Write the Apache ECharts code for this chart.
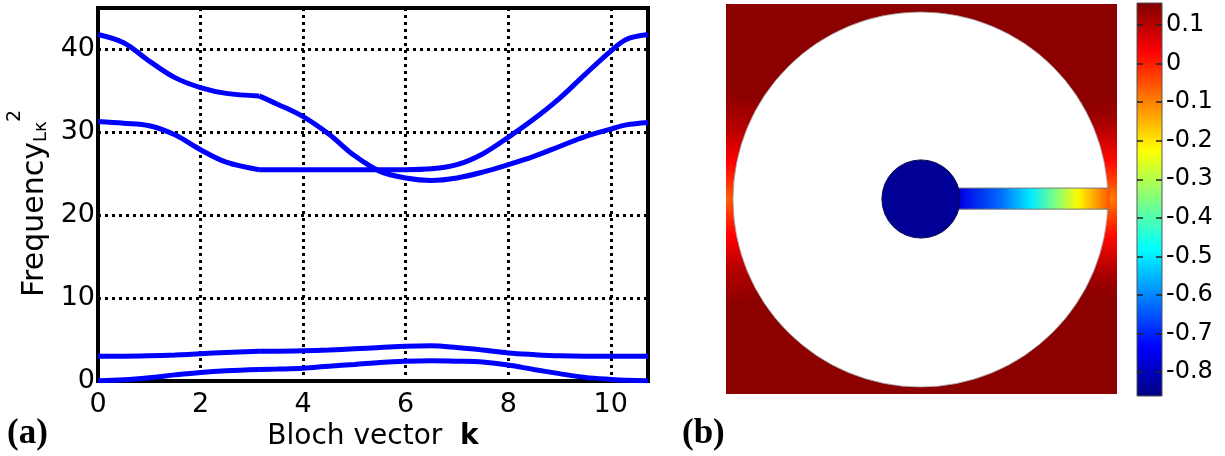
<!DOCTYPE html>
<html lang="en">
<head>
<meta charset="UTF-8">
<title>Bands and field</title>
<style>
    body { margin: 0; background: #fff; }
    #chart { width: 1225px; height: 456px; }
</style>
<script src="https://cdn.jsdelivr.net/npm/echarts@6/dist/echarts.min.js"></script>
</head>
<body>
<div id="chart"></div>
<script>
    // (a) Bloch vector samples: Gamma -> X, then X -> M -> Gamma
    var kGX = [0, 0.5, 1, 1.5, 2, 2.5, 3.1416];
    var kXMG = [3.1416, 3.5, 4, 4.5, 5, 5.5, 6, 6.5, 7, 7.5, 8, 8.5, 9, 9.5, 10, 10.3, 10.726];

    var band1GX = [0.05, 0.15, 0.4, 0.75, 1.05, 1.25, 1.4];
    var band1XMG = [1.4, 1.45, 1.55, 1.8, 2.0, 2.25, 2.4, 2.45, 2.4, 2.3, 1.95, 1.4, 0.9, 0.45, 0.2, 0.1, 0.05];
    var band2GX = [3.0, 3.0, 3.05, 3.15, 3.3, 3.45, 3.6];
    var band2XMG = [3.6, 3.6, 3.65, 3.75, 3.9, 4.05, 4.2, 4.25, 4.05, 3.75, 3.4, 3.2, 3.05, 3.0, 3.0, 3.0, 3.0];
    var band3GX = [31.3, 31.1, 30.8, 29.7, 27.9, 26.4, 25.5];
    var band3XMG = [25.5, 25.5, 25.5, 25.5, 25.5, 25.5, 25.5, 25.6, 26.1, 27.4, 29.4, 31.6, 34.1, 37.0, 39.8, 41.2, 41.8];
    var band4GX = [41.8, 40.8, 38.6, 36.6, 35.4, 34.7, 34.4];
    var band4XMG = [34.4, 33.4, 31.9, 29.8, 27.2, 25.3, 24.5, 24.2, 24.5, 25.2, 26.1, 27.1, 28.3, 29.5, 30.4, 30.9, 31.2];

    // (b) field values, read against the colour bar
    var fieldMin = -0.862;
    var fieldMax = 0.157;
    var colorbarTicks = [-0.8, -0.7, -0.6, -0.5, -0.4, -0.3, -0.2, -0.1, 0, 0.1];
    var fieldFar = 0.145;
    var fieldDisk = -0.84;
    var glowOffsets = [0, 0.15, 0.35, 0.65, 1];
    var leftGlowValues = [-0.07, -0.02, 0.03, 0.1, 0.145];
    var rightGlowValues = [-0.1, -0.04, 0.02, 0.1, 0.145];
    var slotPos = [0.6, 0.7, 0.78, 0.84, 0.9, 0.95, 0.98];
    var slotValues = [-0.76, -0.63, -0.5, -0.36, -0.22, -0.12, -0.06];

    // unit cell geometry, cell units (0..1)
    var cellCircle = [0.4974, 0.4987, 0.4795];   // cx, cy, r
    var cellDisk = [0.4987, 0.5, 0.1];
    var cellSlot = [0.4987, 0.982, 0.501, 0.027]; // x0, x1, y, half height

    function pairs(xs, ys) {
        return xs.map(function (x, i) { return [x, ys[i]]; });
    }

    function jetRGB(v) {
        var t = (v - fieldMin) / (fieldMax - fieldMin);
        function c(x) { return Math.round(255 * Math.max(0, Math.min(1, x))); }
        return [c(Math.min(4 * t - 1.5, -4 * t + 4.5)),
                c(Math.min(4 * t - 0.5, -4 * t + 3.5)),
                c(Math.min(4 * t + 0.5, -4 * t + 2.5))];
    }
    function jet(v, a) {
        var c = jetRGB(v);
        return 'rgba(' + c[0] + ',' + c[1] + ',' + c[2] + ',' + (a === undefined ? 1 : a) + ')';
    }

    var chart = echarts.init(document.getElementById('chart'));

    var bandLine = { color: '#0000ff', width: 5 };
    var bandSets = [band1GX, band1XMG, band2GX, band2XMG, band3GX, band3XMG, band4GX, band4XMG];
    var bandSeries = bandSets.map(function (ys, i) {
        return {
            type: 'line',
            xAxisIndex: 0,
            yAxisIndex: 0,
            data: pairs(i % 2 === 0 ? kGX : kXMG, ys),
            showSymbol: false,
            smooth: 0.35,
            lineStyle: bandLine,
            z: 3
        };
    });

    var dotted = { color: '#000', width: 3, type: [3, 4] };
    var tickFont = { fontFamily: 'DejaVu Sans', fontSize: 27, color: '#000' };

    var cellSeries = {
        type: 'custom',
        xAxisIndex: 1,
        yAxisIndex: 1,
        data: [[0, 0]],
        silent: true,
        renderItem: function (params, api) {
            var bl = api.coord([0, 0]);
            var tr = api.coord([1, 1]);
            var w = tr[0] - bl[0];
            var h = bl[1] - tr[1];
            var box = { x: bl[0], y: tr[1], width: w, height: h };

            var lc = api.coord([0, 0.5]);
            var rc = api.coord([cellSlot[1], cellSlot[2]]);
            var leftStops = glowOffsets.map(function (o, i) {
                return { offset: o, color: jet(leftGlowValues[i]) };
            });
            var rightStops = glowOffsets.map(function (o, i) {
                return { offset: o, color: jet(rightGlowValues[i], i === glowOffsets.length - 1 ? 0 : 1) };
            });

            var cc = api.coord([cellCircle[0], cellCircle[1]]);
            var dc = api.coord([cellDisk[0], cellDisk[1]]);
            var s0 = api.coord([cellSlot[0], cellSlot[2] + cellSlot[3]]);
            var s1 = api.coord([cellSlot[1], cellSlot[2] - cellSlot[3]]);
            var slotStops = slotPos.map(function (p, i) {
                return { offset: (p - cellSlot[0]) / (cellSlot[1] - cellSlot[0]), color: jet(slotValues[i]) };
            });

            return {
                type: 'group',
                children: [
                    { type: 'rect', shape: box, style: { fill: jet(fieldFar) } },
                    { type: 'rect', shape: box, style: {
                        fill: new echarts.graphic.RadialGradient(lc[0], lc[1], 0.27 * w, leftStops, true) } },
                    { type: 'rect', shape: box, style: {
                        fill: new echarts.graphic.RadialGradient(rc[0], rc[1], 0.27 * w, rightStops, true) } },
                    { type: 'circle', shape: { cx: cc[0], cy: cc[1], r: cellCircle[2] * w },
                      style: { fill: '#fff', stroke: '#999', lineWidth: 0.8 } },
                    { type: 'rect', shape: { x: s0[0], y: s0[1], width: s1[0] - s0[0], height: s1[1] - s0[1] },
                      style: { fill: new echarts.graphic.LinearGradient(s0[0], 0, s1[0], 0, slotStops, true) } },
                    { type: 'line', shape: { x1: s0[0], y1: s0[1], x2: s1[0], y2: s0[1] },
                      style: { stroke: '#777', lineWidth: 1 } },
                    { type: 'line', shape: { x1: s0[0], y1: s1[1], x2: s1[0], y2: s1[1] },
                      style: { stroke: '#777', lineWidth: 1 } },
                    { type: 'circle', shape: { cx: dc[0], cy: dc[1], r: cellDisk[2] * w },
                      style: { fill: jet(fieldDisk), stroke: '#0a0a50', lineWidth: 1 } }
                ]
            };
        }
    };

    var colorbarSeries = {
        type: 'custom',
        xAxisIndex: 2,
        yAxisIndex: 2,
        data: [[0, 0]],
        silent: true,
        z: 1,
        renderItem: function (params, api) {
            var top = api.coord([0, fieldMax]);
            var bot = api.coord([1, fieldMin]);
            var stops = [];
            for (var i = 0; i <= 40; i++) {
                stops.push({ offset: i / 40, color: jet(fieldMax - i / 40 * (fieldMax - fieldMin)) });
            }
            return {
                type: 'rect',
                shape: { x: top[0], y: top[1], width: bot[0] - top[0], height: bot[1] - top[1] },
                style: {
                    fill: new echarts.graphic.LinearGradient(0, top[1], 0, bot[1], stops, true),
                    stroke: '#555',
                    lineWidth: 1
                }
            };
        }
    };

    var cbTick = { show: true, inside: true, length: 6, customValues: colorbarTicks,
                   lineStyle: { color: '#222', width: 1.5 } };

    var option = {
        animation: false,
        backgroundColor: '#fff',
        grid: [
            { left: 98, top: 8, width: 550, height: 382, show: true, borderColor: '#000', borderWidth: 4 },
            { left: 726, top: 4, width: 391, height: 390 },
            { left: 1137, top: 3, width: 25, height: 393 }
        ],
        xAxis: [
            {
                gridIndex: 0, type: 'value', min: 0, max: 10.726, interval: 2,
                name: '{a|Bloch vector  }{b|k}',
                nameLocation: 'middle', nameGap: 36,
                nameTextStyle: { rich: {
                    a: { fontFamily: 'DejaVu Sans', fontSize: 28, color: '#000' },
                    b: { fontFamily: 'DejaVu Sans', fontSize: 28, fontWeight: 'bold', color: '#000' }
                } },
                axisLine: { lineStyle: { color: '#000', width: 4 } },
                axisTick: { show: false },
                axisLabel: Object.assign({ margin: 10, showMaxLabel: false }, tickFont),
                splitLine: { lineStyle: dotted }
            },
            { gridIndex: 1, type: 'value', min: 0, max: 1, show: false },
            { gridIndex: 2, type: 'value', min: 0, max: 1, show: false }
        ],
        yAxis: [
            {
                gridIndex: 0, type: 'value', min: 0, max: 45, interval: 10,
                axisLine: { lineStyle: { color: '#000', width: 4 } },
                axisTick: { show: false },
                axisLabel: Object.assign({ margin: 3, showMaxLabel: false }, tickFont),
                splitLine: { lineStyle: dotted }
            },
            { gridIndex: 1, type: 'value', min: 0, max: 1, show: false },
            {
                gridIndex: 2, type: 'value', min: fieldMin, max: fieldMax, position: 'left', z: 5,
                axisLine: { show: false }, axisTick: cbTick, axisLabel: { show: false }, splitLine: { show: false }
            },
            {
                gridIndex: 2, type: 'value', min: fieldMin, max: fieldMax, position: 'right', z: 5,
                axisLine: { show: false }, axisTick: cbTick, splitLine: { show: false },
                axisLabel: {
                    customValues: colorbarTicks, margin: 4,
                    fontFamily: 'DejaVu Sans', fontSize: 24, color: '#000',
                    formatter: function (v) { return String(Math.round(v * 10) / 10); }
                }
            }
        ],
        graphic: [
            {
                type: 'text', x: 50, y: 297, rotation: Math.PI / 2,
                style: {
                    text: '{a|Frequency}{s|Lκ}',
                    textAlign: 'left', textVerticalAlign: 'bottom',
                    rich: {
                        a: { fontFamily: 'DejaVu Sans', fontSize: 30, fill: '#000' },
                        s: { fontFamily: 'DejaVu Sans', fontSize: 18, fill: '#000', verticalAlign: 'bottom' }
                    }
                }
            },
            {
                type: 'text', x: 25, y: 122, rotation: Math.PI / 2,
                style: { text: '2', font: '19px DejaVu Sans', fill: '#000', textAlign: 'left', textVerticalAlign: 'bottom' }
            },
            { type: 'text', left: 7, top: 416, style: { text: '(a)', font: 'bold 35px Liberation Serif', fill: '#000' } },
            { type: 'text', left: 682, top: 416, style: { text: '(b)', font: 'bold 35px Liberation Serif', fill: '#000' } }
        ],
        series: bandSeries.concat([cellSeries, colorbarSeries])
    };

    chart.setOption(option);
</script>
</body>
</html>
